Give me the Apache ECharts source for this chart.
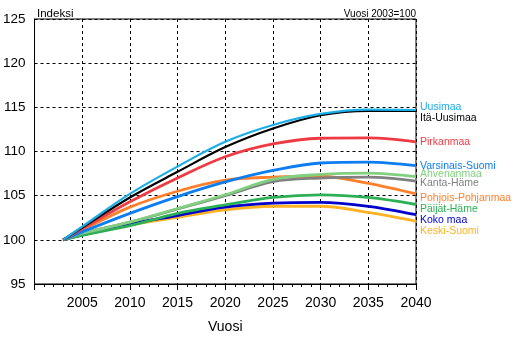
<!DOCTYPE html>
<html>
<head>
<meta charset="utf-8">
<script src="https://cdn.jsdelivr.net/npm/echarts@6/dist/echarts.min.js"></script>
<style>
  html, body { margin: 0; padding: 0; background: #fff; }
  #chart { width: 523px; height: 339px; }
</style>
</head>
<body>
<div id="chart"></div>
<script>
// Väestöennuste: indeksi, vuosi 2003 = 100
const years = [2003, 2005, 2010, 2015, 2020, 2025, 2030, 2035, 2040];

const uusimaa          = [100, 101.5, 105.2, 108.3, 111.1, 113.0, 114.25, 114.75, 114.7];
const itaUusimaa       = [100, 101.4, 104.8, 107.7, 110.5, 112.6, 114.1, 114.6, 114.6];
const pirkanmaa        = [100, 101.25, 104.3, 107.0, 109.4, 110.85, 111.5, 111.55, 111.1];
const varsinaisSuomi   = [100, 100.9, 103.0, 104.9, 106.55, 107.85, 108.7, 108.8, 108.4];
const ahvenanmaa       = [100, 100.75, 102.0, 103.55, 105.1, 106.85, 107.4, 107.55, 107.15];
const kantaHame        = [100, 100.75, 102.0, 103.5, 105.0, 106.6, 107.0, 107.1, 106.65];
const pohjoisPohjanmaa = [100, 101.1, 103.7, 105.5, 106.75, 107.1, 107.2, 106.4, 105.2];
const paijatHame       = [100, 100.5, 101.6, 103.0, 103.95, 104.8, 105.1, 104.8, 104.0];
const kokoMaa          = [100, 100.55, 101.8, 102.75, 103.7, 104.15, 104.25, 103.8, 102.85];
const keskiSuomi       = [100, 100.55, 101.7, 102.55, 103.4, 103.8, 103.8, 103.1, 102.1];

const xTicks = [2005, 2010, 2015, 2020, 2025, 2030, 2035, 2040];
const yTicks = [95, 100, 105, 110, 115, 120, 125];

// name, values, colour, line width, end-label vertical nudge
const seriesDefs = [
  ['Uusimaa',           uusimaa,          '#1aaee8', 2.2, -2.7],
  ['Itä-Uusimaa',       itaUusimaa,       '#000000', 2.2,  7],
  ['Pirkanmaa',         pirkanmaa,        '#ee3a43', 2.8,  0],
  ['Varsinais-Suomi',   varsinaisSuomi,   '#0d7df2', 2.8,  0.6],
  ['Ahvenanmaa',        ahvenanmaa,       '#80d080', 2.8, -3],
  ['Kanta-Häme',        kantaHame,        '#808080', 2.8,  2],
  ['Pohjois-Pohjanmaa', pohjoisPohjanmaa, '#ff7f2a', 2.8,  4.5],
  ['Päijät-Häme',       paijatHame,       '#2db055', 2.8,  4.7],
  ['Koko maa',          kokoMaa,          '#0000cc', 2.8,  5.6],
  ['Keski-Suomi',       keskiSuomi,       '#ffb222', 2.8,  9.6]
];

const axisFont = 'Liberation Sans, Arial, sans-serif';

const chart = echarts.init(document.getElementById('chart'), null, { renderer: 'canvas' });

chart.setOption({
  animation: false,
  backgroundColor: '#ffffff',
  title: [
    { text: 'Indeksi', left: 32, top: 3,
      textStyle: { fontFamily: axisFont, fontSize: 11.5, fontWeight: 'normal', color: '#000' } },
    { text: 'Vuosi 2003=100', right: 102, top: 4,
      textStyle: { fontFamily: axisFont, fontSize: 10, fontWeight: 'normal', color: '#000' } }
  ],
  grid: {
    left: 33, top: 19, width: 383, height: 269,
    show: true, borderColor: '#000', borderWidth: 1, backgroundColor: 'transparent'
  },
  xAxis: {
    type: 'value', min: 2000, max: 2040, interval: 5,
    name: 'Vuosi', nameLocation: 'middle', nameGap: 36,
    nameTextStyle: { fontFamily: axisFont, fontSize: 14, color: '#000' },
    axisLine: { show: true, lineStyle: { color: '#000', width: 1 } },
    axisTick: { show: true, length: 6, lineStyle: { color: '#000' } },
    minorTick: { show: true, splitNumber: 5, length: 3, lineStyle: { color: '#000' } },
    axisLabel: {
      margin: 12, fontFamily: axisFont, fontSize: 14, color: '#000',
      formatter: v => (xTicks.indexOf(v) >= 0 ? String(v) : '')
    },
    splitLine: { show: true, lineStyle: { color: '#000', type: [3, 3], width: 1 } }
  },
  yAxis: {
    type: 'value', min: 95, max: 125, interval: 5,
    axisLine: { show: true, lineStyle: { color: '#000', width: 1 } },
    axisTick: { show: false },
    axisLabel: {
      margin: 9, fontFamily: axisFont, fontSize: 13.5, color: '#000',
      formatter: v => (yTicks.indexOf(v) >= 0 ? String(v) : '')
    },
    splitLine: { show: true, lineStyle: { color: '#000', type: [3, 3], width: 1 } }
  },
  series: seriesDefs.map(([name, vals, color, width, dy], idx) => ({
    name: name,
    type: 'line',
    smooth: 0.35,
    symbol: 'none',
    clip: false,
    data: years.map((y, i) => [y, vals[i]]),
    lineStyle: { color: color, width: width },
    itemStyle: { color: color },
    endLabel: {
      show: true,
      formatter: '{a}',
      color: color,
      fontFamily: axisFont,
      fontSize: 10.5,
      distance: 4,
      offset: [0, dy]
    },
    z: 12 - idx
  }))
});
</script>
</body>
</html>
